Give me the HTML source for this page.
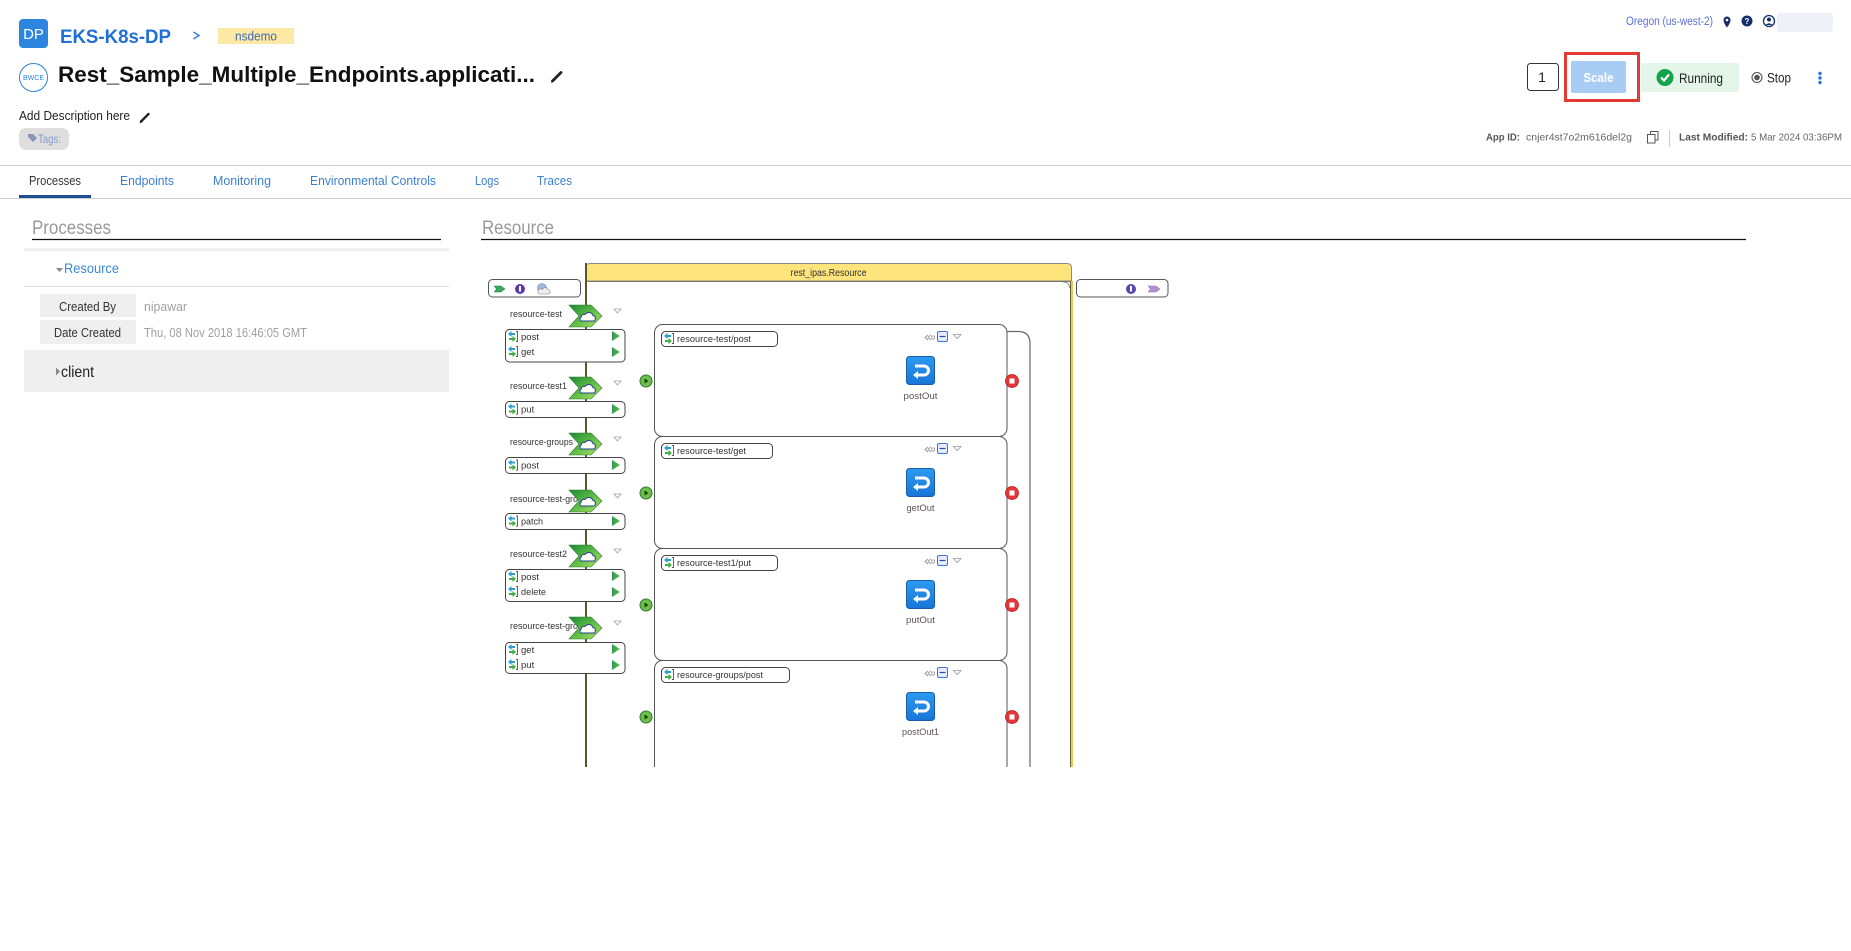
<!DOCTYPE html>
<html><head><meta charset="utf-8">
<style>html,body{margin:0;padding:0;background:#fff;width:1851px;height:951px;overflow:hidden}svg{display:block}</style>
</head><body>
<svg width="1851" height="951" viewBox="0 0 1851 951" xmlns="http://www.w3.org/2000/svg" font-family="'Liberation Sans', sans-serif">
<defs>
  <linearGradient id="gch" x1="0" y1="0" x2="1" y2="1">
    <stop offset="0" stop-color="#1e8a36"/><stop offset="0.5" stop-color="#5cbc45"/><stop offset="1" stop-color="#b4e46a"/>
  </linearGradient>
  <linearGradient id="gbl" x1="0" y1="0" x2="0" y2="1">
    <stop offset="0" stop-color="#2e9af0"/><stop offset="1" stop-color="#1676d8"/>
  </linearGradient>
  <linearGradient id="gpl" x1="0" y1="0" x2="1" y2="0">
    <stop offset="0" stop-color="#2f9a45"/><stop offset="1" stop-color="#5cc060"/>
  </linearGradient>
  <g id="rowic">
    <path d="M0,3 L3.5,0 V2 H7 V4 H3.5 V6 Z" fill="#27a0d6"/>
    <path d="M8,8 L4.5,5 V7 H1 V9 H4.5 V11 Z" fill="#3cb143"/>
    <path d="M8,0.5 H9.5 V10.5 H8" fill="none" stroke="#555" stroke-width="0.9"/>
  </g>
  <g id="play"><path d="M0,0 L8,5 L0,10 Z" fill="url(#gpl)"/></g>
  <g id="chev">
    <path d="M2,0 H24 L35,11 L24,22 H2 L12,11 Z" fill="url(#gch)" stroke="#2a7a30" stroke-width="0.6"/>
    <path d="M14,16 h13 a3,3 0 0 0 -1,-5.5 a4.5,4.5 0 0 0 -8,-1 a3,3 0 0 0 -4,3 a2,2 0 0 0 0,3.5z" fill="#fff" stroke="#2a3f8f" stroke-width="1"/>
  </g>
  <g id="tri"><path d="M0,0 H7 L3.5,4 Z" fill="#fff" stroke="#a0a0a0" stroke-width="0.8"/></g>
  <g id="start">
    <circle r="6" fill="#6bbf4a" stroke="#2f7d28" stroke-width="1"/>
    <path d="M-1.5,-2.5 L2.5,0 L-1.5,2.5 Z" fill="#1d3d12"/>
  </g>
  <g id="stop">
    <circle r="6.5" fill="#e33838" stroke="#b71c1c" stroke-width="0.8"/>
    <rect x="-2.5" y="-2.5" width="5" height="5" fill="#fff"/>
  </g>
  <g id="ret">
    <rect x="0.5" y="0.5" width="28" height="28" rx="3" fill="url(#gbl)" stroke="#185da8"/>
    <path d="M9,10 H18 A4.5,4.5 0 0 1 18,19 H11" fill="none" stroke="#fff" stroke-width="3"/>
    <path d="M7,19 L12,15 V23 Z" fill="#fff"/>
  </g>
  <g id="hdr">
    <path d="M3,0 L0,2.5 L3,5 M6,0 L3,2.5 L6,5" fill="none" stroke="#999" stroke-width="1"/>
    <circle cx="8" cy="2.5" r="1.6" fill="none" stroke="#999" stroke-width="0.8"/>
    <rect x="12.5" y="-3.5" width="10" height="10" rx="1.5" fill="#e4ecff" stroke="#4a6fd0" stroke-width="1"/>
    <path d="M14.5,1.5 H20.5" stroke="#2a4aa8" stroke-width="1.2"/>
    <path d="M28.5,-0.5 H36 L32.25,3.5 Z" fill="#fff" stroke="#999" stroke-width="0.8"/>
  </g>
  <clipPath id="dclip"><rect x="470" y="250" width="720" height="517"/></clipPath>
</defs>

<!-- ===== HEADER LEFT ===== -->
<rect x="19" y="19" width="29" height="29" rx="4" fill="#2c85de"/>
<text x="33.5" y="39" font-size="15" fill="#fff" text-anchor="middle">DP</text>
<text x="60" y="43" font-size="19" font-weight="bold" fill="#1f6fd6" textLength="111" lengthAdjust="spacingAndGlyphs">EKS-K8s-DP</text>
<path d="M193.5,32 L199,35.5 L193.5,39" fill="none" stroke="#3b82d6" stroke-width="1.5"/>
<rect x="218" y="28" width="76" height="16" fill="#fde9a3"/>
<text x="256" y="40.5" font-size="12.5" fill="#4169b8" text-anchor="middle" textLength="42" lengthAdjust="spacingAndGlyphs">nsdemo</text>

<circle cx="33.5" cy="77.5" r="14" fill="#fff" stroke="#2c85de" stroke-width="1"/>
<text x="33.5" y="80" font-size="7" fill="#2c85de" text-anchor="middle">BWCE</text>
<text x="58" y="82" font-size="22" font-weight="bold" fill="#111" textLength="477" lengthAdjust="spacingAndGlyphs">Rest_Sample_Multiple_Endpoints.applicati...</text>
<path d="M552.5,81 L561,72.5" stroke="#222" stroke-width="2.8" stroke-linecap="round"/>
<path d="M551,83 L552.5,79 L554.5,81 Z" fill="#222"/>

<text x="19" y="120" font-size="13" fill="#222" textLength="111" lengthAdjust="spacingAndGlyphs">Add Description here</text>
<path d="M141,121.5 L148.5,114" stroke="#222" stroke-width="2.3" stroke-linecap="round"/>
<path d="M139.5,123.5 L140.8,120 L142.8,122 Z" fill="#222"/>

<rect x="19" y="128" width="50" height="22" rx="7" fill="#dedede"/>
<path d="M28,134 H33 L37,138 L33,142 L28,137 Z" fill="#8797b8"/>
<text x="38" y="143" font-size="12" fill="#7f9cc9" textLength="23" lengthAdjust="spacingAndGlyphs">Tags:</text>

<!-- ===== HEADER RIGHT ===== -->
<text x="1626" y="25" font-size="11.5" fill="#5b6fd6" textLength="87" lengthAdjust="spacingAndGlyphs">Oregon (us-west-2)</text>
<path d="M1727,27.5 C1724,23.5 1723.5,21.5 1723.5,20 A3.5,3.5 0 0 1 1730.5,20 C1730.5,21.5 1730,23.5 1727,27.5 Z" fill="#1c2d64"/>
<circle cx="1727" cy="20" r="1.3" fill="#fff"/>
<circle cx="1747" cy="21" r="5.5" fill="#12306e"/>
<text x="1747" y="24" font-size="8" font-weight="bold" fill="#fff" text-anchor="middle">?</text>
<circle cx="1769" cy="21" r="5.5" fill="none" stroke="#12306e" stroke-width="1.3"/>
<circle cx="1769" cy="19.5" r="2" fill="#12306e"/>
<path d="M1765.5,25 Q1769,21.5 1772.5,25" fill="#12306e"/>
<rect x="1777" y="13" width="56" height="19" rx="3" fill="#eef1f8"/>

<rect x="1527.5" y="63.5" width="31" height="27" rx="3" fill="#fff" stroke="#333" stroke-width="1"/>
<text x="1542" y="82" font-size="14" fill="#222" text-anchor="middle">1</text>
<rect x="1571" y="61" width="55" height="32" rx="2" fill="#a9ccf4"/>
<text x="1598.5" y="82" font-size="13" font-weight="bold" fill="#fff" text-anchor="middle" textLength="30" lengthAdjust="spacingAndGlyphs">Scale</text>
<rect x="1565.5" y="53.5" width="73" height="47" fill="none" stroke="#e23b36" stroke-width="3"/>
<rect x="1641" y="63" width="98" height="29" rx="2" fill="#e4f6e9"/>
<circle cx="1665" cy="77.5" r="8.5" fill="#14a34a"/>
<path d="M1661,77.5 L1664,80.5 L1669,74.5" fill="none" stroke="#fff" stroke-width="2.2"/>
<text x="1679" y="83" font-size="14" fill="#222" textLength="44" lengthAdjust="spacingAndGlyphs">Running</text>
<circle cx="1757" cy="77.5" r="5" fill="none" stroke="#555" stroke-width="1.1"/>
<circle cx="1757" cy="77.5" r="2.8" fill="#555"/>
<text x="1767" y="82.5" font-size="13.5" fill="#222" textLength="24" lengthAdjust="spacingAndGlyphs">Stop</text>
<circle cx="1820" cy="73.5" r="1.7" fill="#2b74d0"/>
<circle cx="1820" cy="78" r="1.7" fill="#2b74d0"/>
<circle cx="1820" cy="82.5" r="1.7" fill="#2b74d0"/>

<text x="1486" y="140.5" font-size="10.5" font-weight="bold" fill="#555" textLength="34" lengthAdjust="spacingAndGlyphs">App ID:</text>
<text x="1526" y="140.5" font-size="10.5" fill="#666" textLength="106" lengthAdjust="spacingAndGlyphs">cnjer4st7o2m616del2g</text>
<rect x="1650.5" y="131.5" width="7.5" height="8.5" fill="none" stroke="#555" stroke-width="1"/>
<rect x="1647.5" y="134.5" width="7.5" height="8.5" fill="#fff" stroke="#555" stroke-width="1"/>
<path d="M1669.5,130 V147" stroke="#ccc" stroke-width="1"/>
<text x="1679" y="140.5" font-size="10.5" font-weight="bold" fill="#555" textLength="69" lengthAdjust="spacingAndGlyphs">Last Modified:</text>
<text x="1751" y="140.5" font-size="10.5" fill="#666" textLength="91" lengthAdjust="spacingAndGlyphs">5 Mar 2024 03:36PM</text>

<!-- ===== TABS ===== -->
<path d="M0,165.5 H1851" stroke="#cfcfcf" stroke-width="1"/>
<path d="M0,198.5 H1851" stroke="#cfcfcf" stroke-width="1"/>
<rect x="19" y="195" width="72" height="3" fill="#1c4f93"/>
<text x="29" y="185" font-size="13" fill="#333" textLength="52" lengthAdjust="spacingAndGlyphs">Processes</text>
<text x="120" y="185" font-size="13" fill="#3b7fd4" textLength="54" lengthAdjust="spacingAndGlyphs">Endpoints</text>
<text x="213" y="185" font-size="13" fill="#3b7fd4" textLength="58" lengthAdjust="spacingAndGlyphs">Monitoring</text>
<text x="310" y="185" font-size="13" fill="#3b7fd4" textLength="126" lengthAdjust="spacingAndGlyphs">Environmental Controls</text>
<text x="475" y="185" font-size="13" fill="#3b7fd4" textLength="24" lengthAdjust="spacingAndGlyphs">Logs</text>
<text x="537" y="185" font-size="13" fill="#3b7fd4" textLength="35" lengthAdjust="spacingAndGlyphs">Traces</text>

<!-- ===== LEFT PANEL ===== -->
<text x="32" y="234" font-size="19" fill="#9a9a9a" textLength="79" lengthAdjust="spacingAndGlyphs">Processes</text>
<path d="M32,239.5 H441" stroke="#111" stroke-width="1.2"/>
<rect x="24" y="248" width="425" height="3" fill="#efefef"/>
<path d="M56,268 H63 L59.5,272 Z" fill="#888"/>
<text x="64" y="273" font-size="14" fill="#3a87d8" textLength="55" lengthAdjust="spacingAndGlyphs">Resource</text>
<path d="M24,286.5 H449" stroke="#dcdcdc" stroke-width="1"/>
<rect x="40" y="294" width="96" height="23" fill="#efefef"/>
<rect x="40" y="320" width="96" height="24" fill="#efefef"/>
<text x="59" y="311" font-size="13" fill="#333" textLength="57" lengthAdjust="spacingAndGlyphs">Created By</text>
<text x="54" y="337" font-size="13" fill="#333" textLength="67" lengthAdjust="spacingAndGlyphs">Date Created</text>
<text x="144" y="311" font-size="13" fill="#a0a0a0" textLength="43" lengthAdjust="spacingAndGlyphs">nipawar</text>
<text x="144" y="337" font-size="13" fill="#a0a0a0" textLength="163" lengthAdjust="spacingAndGlyphs">Thu, 08 Nov 2018 16:46:05 GMT</text>
<rect x="24" y="350" width="425" height="42" fill="#efefef"/>
<path d="M56,367.5 L60,371.5 L56,375.5 Z" fill="#888"/>
<text x="61" y="377" font-size="16" fill="#222" textLength="33" lengthAdjust="spacingAndGlyphs">client</text>

<!-- ===== RESOURCE PANEL ===== -->
<text x="482" y="234" font-size="19" fill="#9a9a9a" textLength="72" lengthAdjust="spacingAndGlyphs">Resource</text>
<path d="M481,239.5 H1746" stroke="#111" stroke-width="1.2"/>

<g clip-path="url(#dclip)" font-size="9.5">
  <!-- container -->
  <rect x="585" y="263" width="487" height="520" fill="#fff"/>
  <path d="M585.5,281 V268 Q585.5,263.5 590,263.5 H1067 Q1071.5,263.5 1071.5,268 V281 Z" fill="#fde47c" stroke="#8a8a80" stroke-width="1"/>
  <path d="M585,281.5 H1072" stroke="#777" stroke-width="1"/>
  <text x="828.5" y="276" font-size="10" fill="#333" text-anchor="middle" textLength="76" lengthAdjust="spacingAndGlyphs">rest_ipas.Resource</text>
  <path d="M1070.5,281 V767" stroke="#6d6330" stroke-width="1"/>
  <path d="M1072,281 V767" stroke="#e5cc55" stroke-width="2"/>
  <path d="M1063,282 Q1069.5,282 1069.5,288" fill="none" stroke="#777" stroke-width="0.8"/>
  <!-- main vertical line -->
  <path d="M586,263 V767" stroke="#5e5428" stroke-width="2"/>

  <!-- top boxes -->
  <rect x="488.5" y="279.5" width="92" height="17.5" rx="4" fill="#fff" stroke="#555"/>
  <path d="M494,286 H501 L505,289 L501,292 H494 L496.5,289 Z" fill="#3aa860" stroke="#1f7a3a" stroke-width="0.5"/>
  <circle cx="520" cy="289" r="5" fill="#5a3ea8"/>
  <rect x="519" y="286" width="2" height="5.5" fill="#fff"/>
  <circle cx="542" cy="288" r="4.5" fill="#9fb8d8" stroke="#6d8cb8" stroke-width="0.6"/>
  <path d="M539,294 h10 a2.5,2.5 0 0 0 -1,-4.5 a3,3 0 0 0 -5.5,0 a2.2,2.2 0 0 0 -3.5,4.5z" fill="#eee" stroke="#888" stroke-width="0.6"/>

  <rect x="1076.5" y="279.5" width="91.5" height="17.5" rx="4" fill="#fff" stroke="#555"/>
  <circle cx="1131" cy="289" r="5" fill="#5b46b0"/>
  <rect x="1130" y="286" width="2" height="5.5" fill="#fff"/>
  <path d="M1148,286 H1156 L1160,289 L1156,292 H1148 L1150.5,289 Z" fill="#b48fd0" stroke="#8d68ac" stroke-width="0.5"/>

  <!-- subprocess boxes -->
  <rect x="654.5" y="324.5" width="352.5" height="112" rx="8" fill="#fff" stroke="#555"/>
  <rect x="654.5" y="436.5" width="352.5" height="112" rx="8" fill="#fff" stroke="#555"/>
  <rect x="654.5" y="548.5" width="352.5" height="112" rx="8" fill="#fff" stroke="#555"/>
  <rect x="654.5" y="660.5" width="352.5" height="130" rx="8" fill="#fff" stroke="#555"/>
  <path d="M1007,331.5 H1018 Q1030,331.5 1030,343.5 V767" fill="none" stroke="#666" stroke-width="1.2"/>

  <!-- subprocess 1 -->
  <rect x="661.5" y="331.5" width="116" height="15" rx="4" fill="#fff" stroke="#444"/>
  <use href="#rowic" x="664" y="333"/>
  <text x="677" y="342" fill="#333" textLength="74" lengthAdjust="spacingAndGlyphs">resource-test/post</text>
  <use href="#hdr" x="925" y="335"/>
  <use href="#ret" x="906" y="356"/>
  <text x="920.5" y="399" fill="#5e5058" text-anchor="middle" textLength="34" lengthAdjust="spacingAndGlyphs">postOut</text>
  <use href="#start" x="646" y="381"/>
  <use href="#stop" x="1012" y="381"/>

  <!-- subprocess 2 -->
  <rect x="661.5" y="443.5" width="111" height="15" rx="4" fill="#fff" stroke="#444"/>
  <use href="#rowic" x="664" y="445"/>
  <text x="677" y="454" fill="#333" textLength="69" lengthAdjust="spacingAndGlyphs">resource-test/get</text>
  <use href="#hdr" x="925" y="447"/>
  <use href="#ret" x="906" y="468"/>
  <text x="920.5" y="511" fill="#5e5058" text-anchor="middle" textLength="28" lengthAdjust="spacingAndGlyphs">getOut</text>
  <use href="#start" x="646" y="493"/>
  <use href="#stop" x="1012" y="493"/>

  <!-- subprocess 3 -->
  <rect x="661.5" y="555.5" width="116" height="15" rx="4" fill="#fff" stroke="#444"/>
  <use href="#rowic" x="664" y="557"/>
  <text x="677" y="566" fill="#333" textLength="74" lengthAdjust="spacingAndGlyphs">resource-test1/put</text>
  <use href="#hdr" x="925" y="559"/>
  <use href="#ret" x="906" y="580"/>
  <text x="920.5" y="623" fill="#5e5058" text-anchor="middle" textLength="29" lengthAdjust="spacingAndGlyphs">putOut</text>
  <use href="#start" x="646" y="605"/>
  <use href="#stop" x="1012" y="605"/>

  <!-- subprocess 4 -->
  <rect x="661.5" y="667.5" width="128" height="15" rx="4" fill="#fff" stroke="#444"/>
  <use href="#rowic" x="664" y="669"/>
  <text x="677" y="678" fill="#333" textLength="86" lengthAdjust="spacingAndGlyphs">resource-groups/post</text>
  <use href="#hdr" x="925" y="671"/>
  <use href="#ret" x="906" y="692"/>
  <text x="920.5" y="735" fill="#5e5058" text-anchor="middle" textLength="37" lengthAdjust="spacingAndGlyphs">postOut1</text>
  <use href="#start" x="646" y="717"/>
  <use href="#stop" x="1012" y="717"/>

  <!-- left endpoints column -->
  <!-- 1 -->
  <text x="510" y="317" fill="#333" textLength="52" lengthAdjust="spacingAndGlyphs">resource-test</text>
  <use href="#chev" x="567" y="305"/>
  <use href="#tri" x="614" y="309"/>
  <rect x="505.5" y="329.5" width="119.5" height="32.5" rx="4" fill="#fff" stroke="#444"/>
  <use href="#rowic" x="508" y="331"/><text x="521" y="340" fill="#333">post</text><use href="#play" x="612" y="331"/>
  <use href="#rowic" x="508" y="346"/><text x="521" y="355" fill="#333">get</text><use href="#play" x="612" y="347"/>
  <!-- 2 -->
  <text x="510" y="389" fill="#333" textLength="57" lengthAdjust="spacingAndGlyphs">resource-test1</text>
  <use href="#chev" x="567" y="377"/>
  <use href="#tri" x="614" y="381"/>
  <rect x="505.5" y="401.5" width="119.5" height="16" rx="4" fill="#fff" stroke="#444"/>
  <use href="#rowic" x="508" y="403.5"/><text x="521" y="412.5" fill="#333">put</text><use href="#play" x="612" y="404"/>
  <!-- 3 -->
  <text x="510" y="445" fill="#333" textLength="63" lengthAdjust="spacingAndGlyphs">resource-groups</text>
  <use href="#chev" x="567" y="433"/>
  <use href="#tri" x="614" y="437"/>
  <rect x="505.5" y="457.5" width="119.5" height="16" rx="4" fill="#fff" stroke="#444"/>
  <use href="#rowic" x="508" y="459.5"/><text x="521" y="468.5" fill="#333">post</text><use href="#play" x="612" y="460"/>
  <!-- 4 -->
  <text x="510" y="502" fill="#333" textLength="68" lengthAdjust="spacingAndGlyphs">resource-test-gro</text>
  <use href="#chev" x="567" y="490"/>
  <use href="#tri" x="614" y="494"/>
  <rect x="505.5" y="513.5" width="119.5" height="16" rx="4" fill="#fff" stroke="#444"/>
  <use href="#rowic" x="508" y="515.5"/><text x="521" y="524.5" fill="#333" textLength="22" lengthAdjust="spacingAndGlyphs">patch</text><use href="#play" x="612" y="516"/>
  <!-- 5 -->
  <text x="510" y="557" fill="#333" textLength="57" lengthAdjust="spacingAndGlyphs">resource-test2</text>
  <use href="#chev" x="567" y="545"/>
  <use href="#tri" x="614" y="549"/>
  <rect x="505.5" y="569.5" width="119.5" height="32" rx="4" fill="#fff" stroke="#444"/>
  <use href="#rowic" x="508" y="571"/><text x="521" y="580" fill="#333">post</text><use href="#play" x="612" y="571"/>
  <use href="#rowic" x="508" y="586"/><text x="521" y="595" fill="#333" textLength="25" lengthAdjust="spacingAndGlyphs">delete</text><use href="#play" x="612" y="587"/>
  <!-- 6 -->
  <text x="510" y="629" fill="#333" textLength="68" lengthAdjust="spacingAndGlyphs">resource-test-gro</text>
  <use href="#chev" x="567" y="617"/>
  <use href="#tri" x="614" y="621"/>
  <rect x="505.5" y="642.5" width="119.5" height="31" rx="4" fill="#fff" stroke="#444"/>
  <use href="#rowic" x="508" y="644"/><text x="521" y="653" fill="#333">get</text><use href="#play" x="612" y="644"/>
  <use href="#rowic" x="508" y="659"/><text x="521" y="668" fill="#333">put</text><use href="#play" x="612" y="660"/>
</g>
</svg>
</body></html>
